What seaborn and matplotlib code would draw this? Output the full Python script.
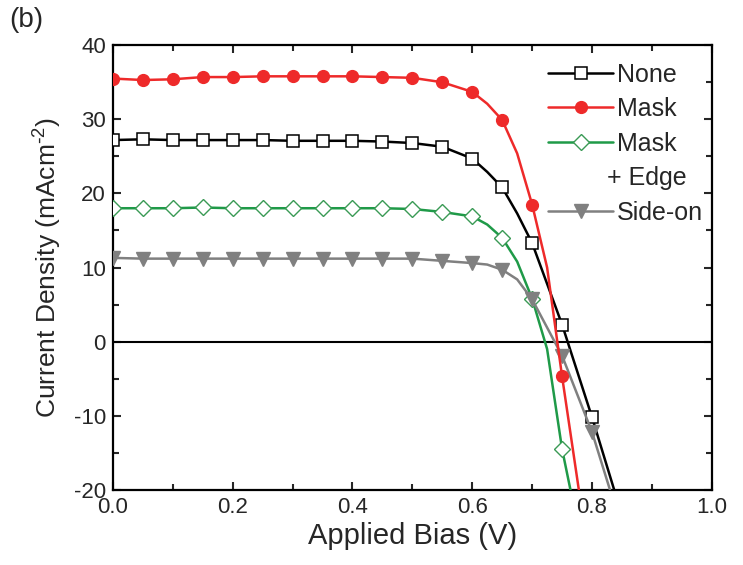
import numpy as np
import pandas as pd
import matplotlib
matplotlib.use('Agg')
import matplotlib.pyplot as plt
import seaborn as sns
from matplotlib.lines import Line2D
from matplotlib.ticker import MultipleLocator, FormatStrFormatter

# Bias (V) and current density (mA/cm^2)
none_v = [0.00, 0.05, 0.10, 0.15, 0.20, 0.25, 0.30, 0.35, 0.40, 0.45, 0.50, 0.55, 0.60, 0.625, 0.65, 0.675, 0.70, 0.75, 0.80, 0.837]
none_j = [27.2, 27.3, 27.2, 27.2, 27.2, 27.2, 27.1, 27.1, 27.1, 27.0, 26.8, 26.3, 24.7, 22.9, 20.8, 17.3, 13.3, 2.3, -10.2, -20.0]

mask_v = [0.00, 0.05, 0.10, 0.15, 0.20, 0.25, 0.30, 0.35, 0.40, 0.45, 0.50, 0.55, 0.60, 0.625, 0.65, 0.675, 0.70, 0.725, 0.75, 0.778]
mask_j = [35.5, 35.3, 35.4, 35.7, 35.7, 35.8, 35.8, 35.8, 35.8, 35.7, 35.6, 35.0, 33.7, 32.1, 29.9, 25.4, 18.5, 10.0, -4.7, -20.0]

edge_v = [0.00, 0.05, 0.10, 0.15, 0.20, 0.25, 0.30, 0.35, 0.40, 0.45, 0.50, 0.55, 0.60, 0.625, 0.65, 0.675, 0.70, 0.725, 0.75, 0.764]
edge_j = [18.0, 18.0, 18.0, 18.1, 18.0, 18.0, 18.0, 18.0, 18.0, 18.0, 17.9, 17.5, 16.9, 15.8, 14.0, 10.8, 5.8, -1.0, -14.5, -20.0]

side_v = [0.00, 0.05, 0.10, 0.15, 0.20, 0.25, 0.30, 0.35, 0.40, 0.45, 0.50, 0.55, 0.60, 0.625, 0.65, 0.675, 0.70, 0.75, 0.80, 0.83]
side_j = [11.3, 11.2, 11.2, 11.2, 11.2, 11.2, 11.2, 11.2, 11.2, 11.2, 11.2, 10.9, 10.6, 10.4, 9.7, 8.4, 5.7, -1.9, -12.2, -20.0]

sns.set_style('ticks')
plt.rcParams['font.family'] = ['Liberation Sans', 'DejaVu Sans']
plt.rcParams['axes.unicode_minus'] = False
plt.rcParams['mathtext.default'] = 'regular'

fig = plt.figure(figsize=(7.43, 5.65), dpi=100)
ax = fig.add_axes([0.152, 0.133, 0.806, 0.787])

ax.axhline(0, color='black', lw=1.5, zorder=1)

def marker_idx(v):
    # markers only sit on the 0.05 V grid, not on the extra line points
    return [i for i, x in enumerate(v) if abs(round(x / 0.05) * 0.05 - x) < 1e-6 and i != len(v) - 1]

sns.lineplot(x=none_v, y=none_j, ax=ax, color='black', lw=1.8, label='None',
             marker='s', markersize=8.5, markerfacecolor='white', markeredgecolor='black',
             markeredgewidth=1.1, markevery=marker_idx(none_v), sort=False, zorder=3)
sns.lineplot(x=mask_v, y=mask_j, ax=ax, color='#ee2a2a', lw=1.8, label='Mask',
             marker='o', markersize=8.5, markerfacecolor='#ee2a2a', markeredgecolor='#ee2a2a',
             markeredgewidth=1.0, markevery=marker_idx(mask_v), sort=False, zorder=4)
sns.lineplot(x=edge_v, y=edge_j, ax=ax, color='#1f9a48', lw=1.8, label='Mask',
             marker='D', markersize=8.5, markerfacecolor='white', markeredgecolor='#3a9a55',
             markeredgewidth=1.0, markevery=marker_idx(edge_v), sort=False, zorder=3)
sns.lineplot(x=side_v, y=side_j, ax=ax, color='#808080', lw=1.8, label='Side-on',
             marker='v', markersize=9.5, markerfacecolor='#808080', markeredgecolor='#808080',
             markeredgewidth=1.0, markevery=marker_idx(side_v), sort=False, zorder=3)

ax.set_xlim(0, 1.0)
ax.set_ylim(-20, 40)
ax.xaxis.set_major_locator(MultipleLocator(0.2))
ax.xaxis.set_minor_locator(MultipleLocator(0.1))
ax.yaxis.set_major_locator(MultipleLocator(10))
ax.yaxis.set_minor_locator(MultipleLocator(5))
ax.xaxis.set_major_formatter(FormatStrFormatter('%.1f'))
ax.tick_params(which='both', direction='in', top=True, right=True, width=1.5, labelsize=16, pad=5)
ax.tick_params(which='major', length=6)
ax.tick_params(which='minor', length=4)
for s in ax.spines.values():
    s.set_linewidth(1.6)
    s.set_color('black')

ax.set_xlabel('Applied Bias (V)', fontsize=21, labelpad=3)
ax.set_ylabel('Current Density (mAcm$^{\\text{-}2}$)', fontsize=19, labelpad=7)

# legend: blank slot under the green entry for the "+ Edge" line
handles, labels = ax.get_legend_handles_labels()
blank = Line2D([], [], alpha=0)
handles = handles[:3] + [blank] + handles[3:]
labels = labels[:3] + [' '] + labels[3:]
leg = ax.legend(handles, labels, loc='upper right', bbox_to_anchor=(1.015, 1.0), frameon=False,
                fontsize=18, handlelength=2.6, handletextpad=0.15, labelspacing=0.42,
                borderaxespad=0.3)

fig.canvas.draw()
inv = ax.transAxes.inverted()
t_green = leg.get_texts()[2].get_window_extent()
t_blank = leg.get_texts()[3].get_window_extent()
cx, _ = inv.transform(((t_green.x0 + t_green.x1) / 2, 0))
_, cy = inv.transform((0, (t_blank.y0 + t_blank.y1) / 2))
ax.text(cx, cy, '+ Edge', transform=ax.transAxes, ha='center', va='center', fontsize=18)

fig.text(0.012, 0.952, '(b)', fontsize=20)

fig.savefig('out.png', dpi=100)
